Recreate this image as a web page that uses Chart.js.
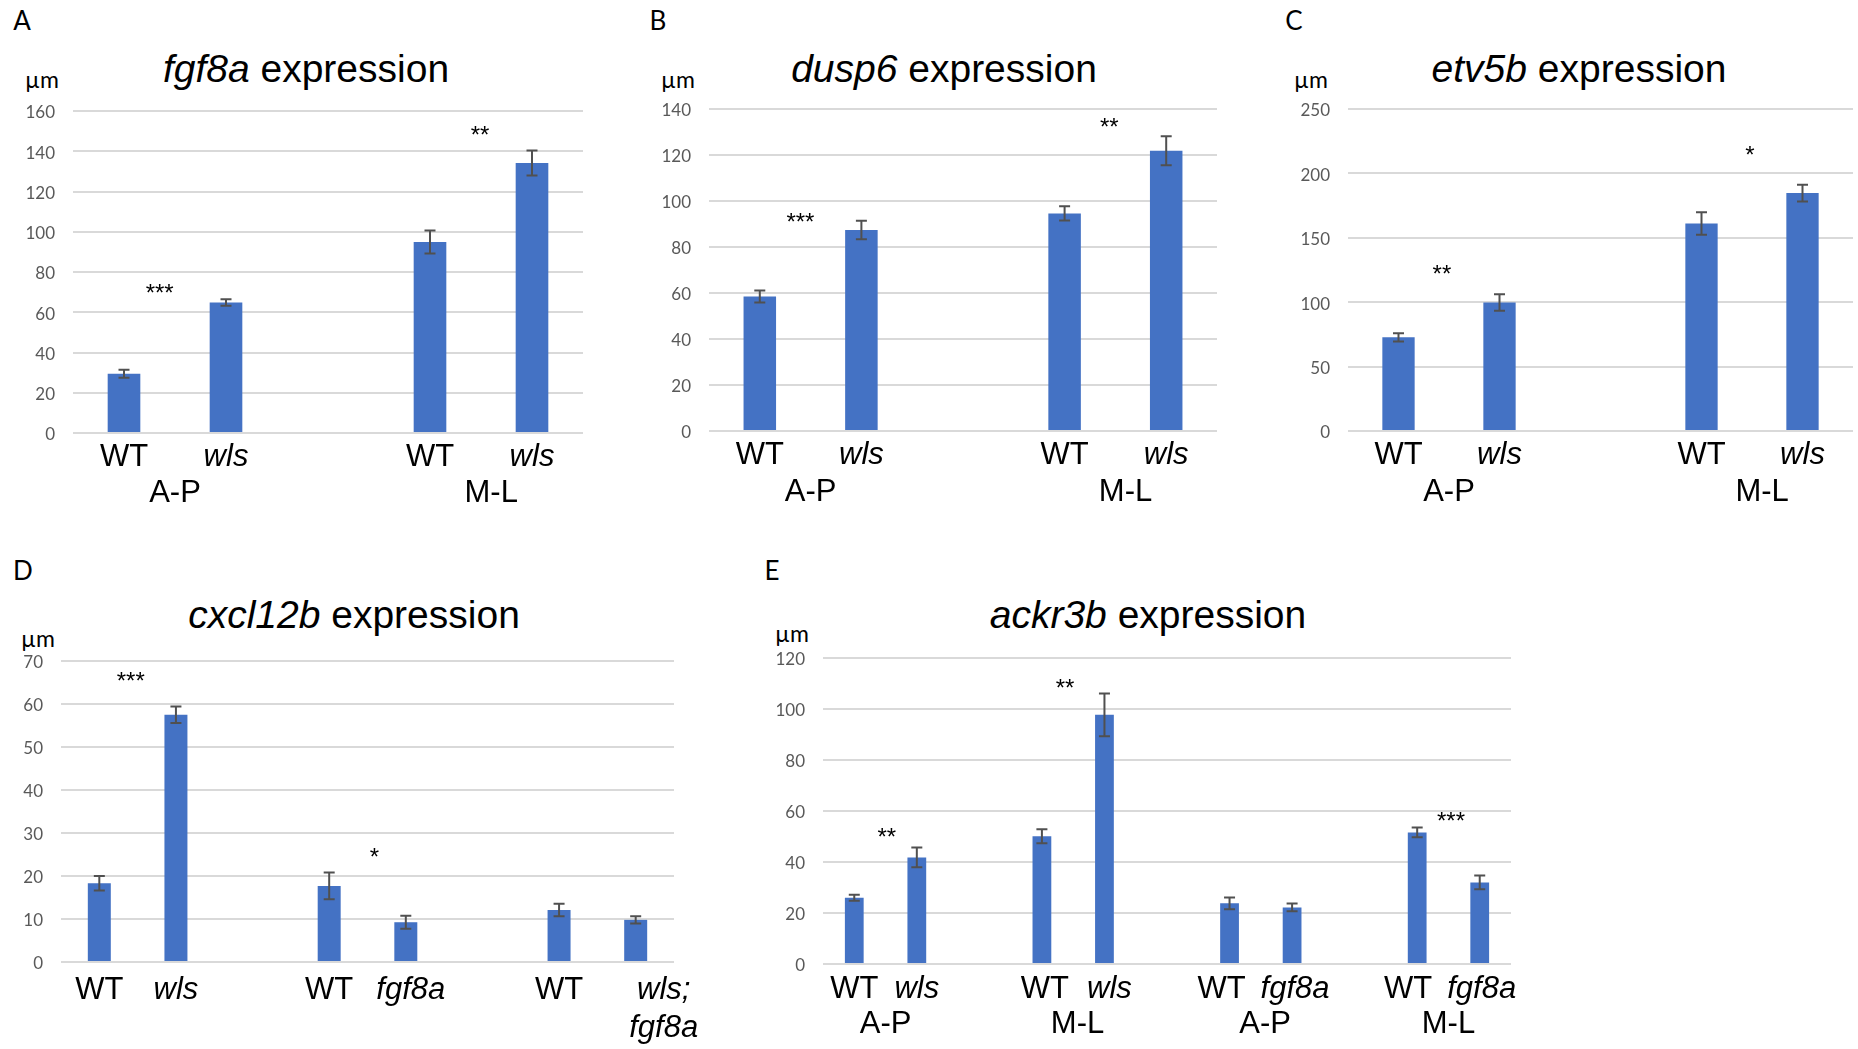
<!DOCTYPE html>
<html>
<head>
<meta charset="utf-8">
<title>Expression widths</title>
<script src="https://cdn.jsdelivr.net/npm/chart.js@4.4.0/dist/chart.umd.min.js"></script>
<style>
  html, body { margin: 0; padding: 0; background: #fff; }
  body { width: 1858px; height: 1049px; position: relative; overflow: hidden; font-family: "Liberation Sans", Arial, sans-serif; }
  .panel { position: absolute; }
  .txt { position: absolute; white-space: nowrap; line-height: 1; color: #000; }
  .letter { font-family: Lato, "Open Sans", sans-serif; font-size: 26px; transform: translate(-50%, -50%); }
  .unit { font-family: Lato, "Open Sans", sans-serif; font-size: 23px; transform: translateX(-50%); }
  .title { font-size: 39px; transform: translateX(-50%); }
</style>
</head>
<body>

<div class="txt letter" style="left:22px;top:20px">A</div>
<div class="txt letter" style="left:658px;top:20px">B</div>
<div class="txt letter" style="left:1294px;top:20px">C</div>
<div class="txt letter" style="left:23px;top:570px">D</div>
<div class="txt letter" style="left:772px;top:570px">E</div>

<div class="txt title" style="left:306px;top:49px"><i>fgf8a</i> expression</div>
<div class="txt title" style="left:944px;top:49px"><i>dusp6</i> expression</div>
<div class="txt title" style="left:1579px;top:49px"><i>etv5b</i> expression</div>
<div class="txt title" style="left:354px;top:595px"><i>cxcl12b</i> expression</div>
<div class="txt title" style="left:1148px;top:595px"><i>ackr3b</i> expression</div>

<!-- baseline minus about 0.89em -->
<div class="txt unit" style="left:42px;top:68px">µm</div>
<div class="txt unit" style="left:678px;top:68px">µm</div>
<div class="txt unit" style="left:1311px;top:68px">µm</div>
<div class="txt unit" style="left:38px;top:627px">µm</div>
<div class="txt unit" style="left:792px;top:622px">µm</div>

<div class="panel" id="pA"><canvas id="cA"></canvas></div>
<div class="panel" id="pB"><canvas id="cB"></canvas></div>
<div class="panel" id="pC"><canvas id="cC"></canvas></div>
<div class="panel" id="pD"><canvas id="cD"></canvas></div>
<div class="panel" id="pE"><canvas id="cE"></canvas></div>

<script>
// ---- A: fgf8a
const fgfLabels = ['WT', 'wls', '', 'WT', 'wls'];
const fgfMeans = [29.4, 64.8, null, 94.9, 134.2];
const fgfErr = [2.0, 1.6, null, 5.7, 6.2];
const fgfGroups = ['A-P', 'M-L'];
const fgfGroupAt = [0.5, 3.6];
const fgfStars = ['***', '**'];
const fgfStarX = [0.35, 3.49];
const fgfStarY = [71.9, 150.8];

// ---- B: dusp6
const duspLabels = ['WT', 'wls', '', 'WT', 'wls'];
const duspMeans = [58.5, 87.4, null, 94.6, 121.8];
const duspErr = [2.6, 4.0, null, 3.1, 6.3];
const duspGroups = ['A-P', 'M-L'];
const duspGroupAt = [0.5, 3.6];
const duspStars = ['***', '**'];
const duspStarX = [0.40, 3.44];
const duspStarY = [93, 134.2];

// ---- C: etv5b
const etvLabels = ['WT', 'wls', '', 'WT', 'wls'];
const etvMeans = [72.7, 99.8, null, 161.1, 184.7];
const etvErr = [3.2, 6.4, null, 8.8, 6.5];
const etvGroups = ['A-P', 'M-L'];
const etvGroupAt = [0.5, 3.6];
const etvStars = ['**', '*'];
const etvStarX = [0.43, 3.48];
const etvStarY = [125.4, 218];

// ---- D: cxcl12b
const cxclLabels = ['WT', 'wls', '', 'WT', 'fgf8a', '', 'WT', 'wls;\nfgf8a'];
const cxclMeans = [18.3, 57.5, null, 17.7, 9.25, null, 12.1, 9.8];
const cxclErr = [1.7, 1.9, null, 3.1, 1.5, null, 1.45, 0.85];
const cxclGroups = [];
const cxclGroupAt = [];
const cxclStars = ['***', '*'];
const cxclStarX = [0.41, 3.59];
const cxclStarY = [66.6, 25.6];

// ---- E: ackr3b
const ackrLabels = ['WT', 'wls', '', 'WT', 'wls', '', 'WT', 'fgf8a', '', 'WT', 'fgf8a'];
const ackrMeans = [26, 41.8, null, 50.1, 97.7, null, 23.8, 22.2, null, 51.6, 32];
const ackrErr = [1.2, 3.9, null, 2.7, 8.4, null, 2.3, 1.5, null, 1.9, 2.7];
const ackrGroups = ['A-P', 'M-L', 'A-P', 'M-L'];
const ackrGroupAt = [0.5, 3.57, 6.57, 9.5];
const ackrStars = ['**', '**', '***'];
const ackrStarX = [0.52, 3.37, 9.54];
const ackrStarY = [51.8, 110.2, 58];

const BLUE = '#4472C4';
const FONT = '"Liberation Sans", Arial, sans-serif';
const Y_W = 60, X_H = 110, PAD_T = 14;

function decor(labels, means, errs, groups, groupAt, stars, starX, starY, look) {
  return {
    id: 'decor',
    afterDatasetsDraw(chart) {
      const ctx = chart.ctx, ys = chart.scales.y;
      const meta = chart.getDatasetMeta(0);
      ctx.save();
      ctx.strokeStyle = '#505050';
      ctx.lineWidth = 2;
      meta.data.forEach((bar, i) => {
        if (means[i] == null) return;
        const top = ys.getPixelForValue(means[i] + errs[i]);
        const bot = ys.getPixelForValue(means[i] - errs[i]);
        ctx.beginPath();
        ctx.moveTo(bar.x, top); ctx.lineTo(bar.x, bot);
        ctx.moveTo(bar.x - 5.5, top); ctx.lineTo(bar.x + 5.5, top);
        ctx.moveTo(bar.x - 5.5, bot); ctx.lineTo(bar.x + 5.5, bot);
        ctx.stroke();
      });
      ctx.restore();
    },
    afterDraw(chart) {
      const ctx = chart.ctx, xs = chart.scales.x, ys = chart.scales.y;
      const bottom = chart.chartArea.bottom;
      const nudge = look.nudge || {};
      ctx.save();
      ctx.fillStyle = '#000';
      ctx.textAlign = 'center';
      ctx.textBaseline = 'middle';
      labels.forEach((lab, i) => {
        if (!lab) return;
        const x = xs.getPixelForValue(i) + (nudge[i] || 0);
        ctx.font = (lab === 'WT' ? '' : 'italic ') + '31px ' + FONT;
        lab.split('\n').forEach((line, k) => ctx.fillText(line, x, bottom + look.row1 + k * 38));
      });
      ctx.font = '31px ' + FONT;
      groups.forEach((g, k) => ctx.fillText(g, xs.getPixelForValue(groupAt[k]), bottom + look.row2));
      ctx.font = '24px ' + FONT;
      ctx.textBaseline = 'alphabetic';
      stars.forEach((s, k) => ctx.fillText(s, xs.getPixelForValue(starX[k]), ys.getPixelForValue(starY[k]) + 13));
      ctx.restore();
    }
  };
}

function makePanel(id, box, labels, means, errs, groups, groupAt, stars, starX, starY, yMax, yStep, barPct, look) {
  const wrap = document.getElementById('p' + id);
  const canvas = document.getElementById('c' + id);
  const w = box.R - box.L + Y_W + box.padR;
  const h = box.B - box.T + PAD_T + X_H;
  wrap.style.left = (box.L - Y_W) + 'px';
  wrap.style.top = (box.T - PAD_T) + 'px';
  canvas.width = w;
  canvas.height = h;
  canvas.style.width = w + 'px';
  canvas.style.height = h + 'px';

  return new Chart(canvas.getContext('2d'), {
    type: 'bar',
    data: {
      labels: labels,
      datasets: [{
        data: means,
        backgroundColor: BLUE,
        borderWidth: 0,
        categoryPercentage: 1,
        barPercentage: barPct
      }]
    },
    options: {
      responsive: false,
      animation: false,
      devicePixelRatio: 1,
      layout: { padding: { left: 0, top: PAD_T, right: box.padR, bottom: 0 } },
      plugins: { legend: { display: false }, tooltip: { enabled: false } },
      scales: {
        x: {
          grid: { display: false },
          border: { display: false },
          ticks: { display: false },
          afterFit: s => { s.height = X_H; s.paddingLeft = 0; s.paddingRight = 0; }
        },
        y: {
          min: 0,
          max: yMax,
          ticks: { stepSize: yStep, color: '#595959', padding: 18, labelOffset: 2, font: { family: 'Lato', size: 17 } },
          grid: { color: '#d9d9d9', lineWidth: 2, drawTicks: false },
          border: { display: false },
          afterFit: s => { s.width = Y_W; s.paddingTop = 0; s.paddingBottom = 0; }
        }
      }
    },
    plugins: [decor(labels, means, errs, groups, groupAt, stars, starX, starY, look)]
  });
}

makePanel('A', { L: 73, T: 111, R: 583, B: 433, padR: 10 },
  fgfLabels, fgfMeans, fgfErr, fgfGroups, fgfGroupAt, fgfStars, fgfStarX, fgfStarY,
  160, 20, 0.32, { row1: 24, row2: 60 });

makePanel('B', { L: 709, T: 109, R: 1217, B: 431, padR: 10 },
  duspLabels, duspMeans, duspErr, duspGroups, duspGroupAt, duspStars, duspStarX, duspStarY,
  140, 20, 0.32, { row1: 24, row2: 61 });

makePanel('C', { L: 1348, T: 109, R: 1853, B: 431, padR: 5 },
  etvLabels, etvMeans, etvErr, etvGroups, etvGroupAt, etvStars, etvStarX, etvStarY,
  250, 50, 0.32, { row1: 24, row2: 61 });

makePanel('D', { L: 61, T: 661, R: 674, B: 962, padR: 30 },
  cxclLabels, cxclMeans, cxclErr, cxclGroups, cxclGroupAt, cxclStars, cxclStarX, cxclStarY,
  70, 10, 0.30, { row1: 28, row2: 66, nudge: { 4: 5, 7: 28 } });

makePanel('E', { L: 823, T: 658, R: 1511, B: 964, padR: 20 },
  ackrLabels, ackrMeans, ackrErr, ackrGroups, ackrGroupAt, ackrStars, ackrStarX, ackrStarY,
  120, 20, 0.30, { row1: 25, row2: 60, nudge: { 3: 3, 4: 5, 6: -8, 7: 3, 9: -9, 10: 2 } });
</script>
</body>
</html>
